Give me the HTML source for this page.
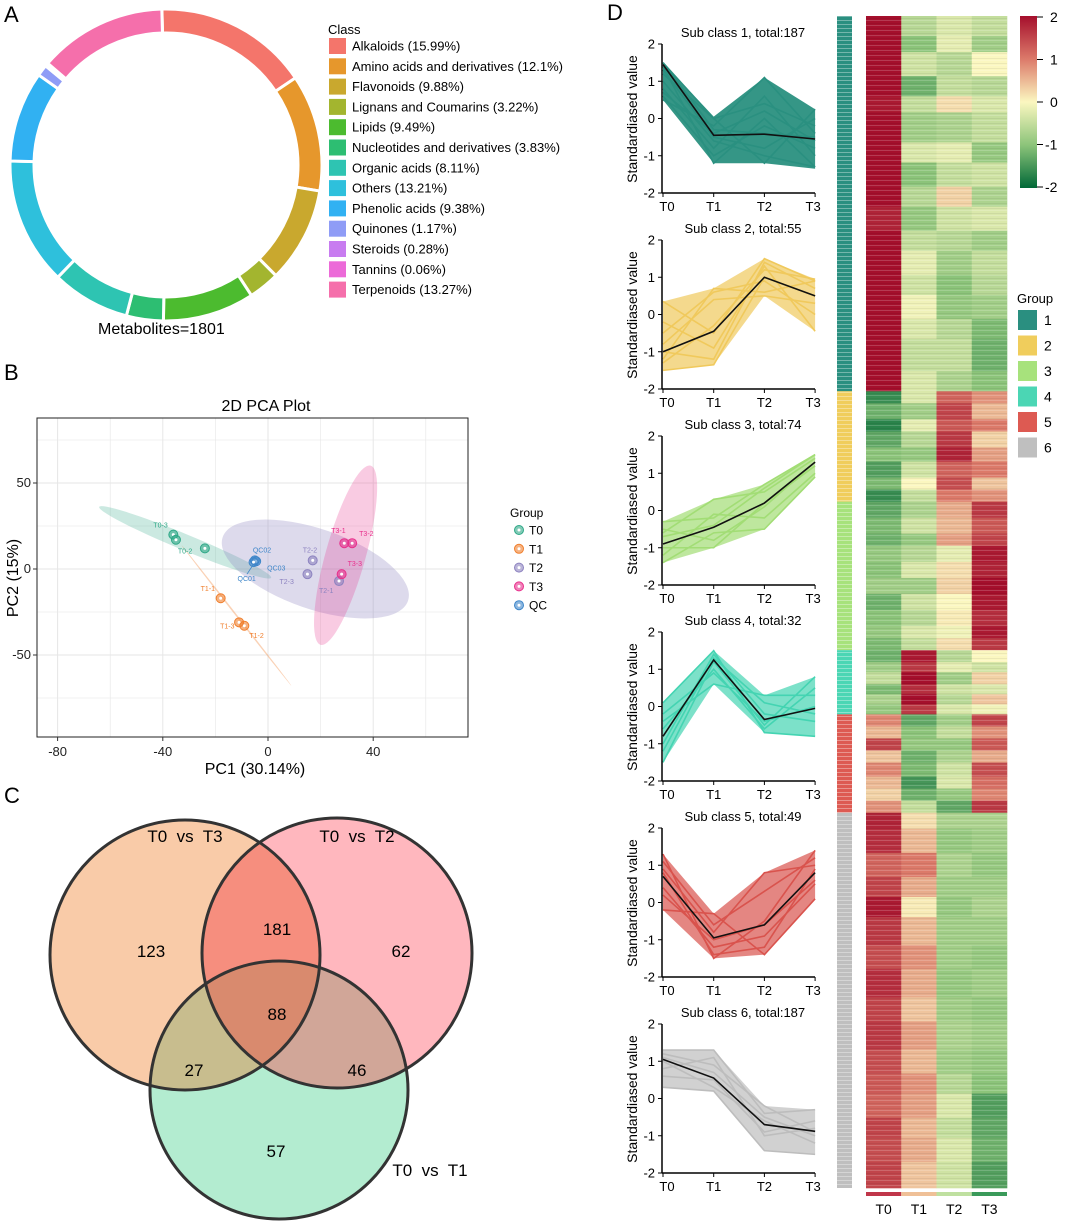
<!DOCTYPE html>
<html><head><meta charset="utf-8"><style>
body{margin:0;background:#fff;}
svg{display:block;font-family:"Liberation Sans",Arial,sans-serif;}
.pre{white-space:pre;}
</style></head><body>
<svg id="fig" width="1065" height="1224" viewBox="0 0 1065 1224">
<defs>
<clipPath id="cA"><circle cx="185" cy="955" r="135"/></clipPath>
<clipPath id="cB"><circle cx="337" cy="953" r="135"/></clipPath>
<clipPath id="cC"><circle cx="279" cy="1090" r="129"/></clipPath>
<linearGradient id="cbar" x1="0" y1="0" x2="0" y2="1">
<stop offset="0" stop-color="#a50f2c"/><stop offset="0.25" stop-color="#dc7a6a"/><stop offset="0.5" stop-color="#fbf7c0"/><stop offset="0.75" stop-color="#8cc47a"/><stop offset="1" stop-color="#006837"/>
</linearGradient>
<pattern id="stripes" width="4" height="4" patternUnits="userSpaceOnUse"><rect x="0" y="0" width="4" height="1" fill="#fff" fill-opacity="0.35"/></pattern>
<pattern id="hstripes" width="6" height="5" patternUnits="userSpaceOnUse"><rect x="0" y="0" width="6" height="1" fill="#fff" fill-opacity="0.18"/><rect x="0" y="3" width="6" height="1" fill="#000" fill-opacity="0.06"/></pattern>
</defs>
<g font-size="22">
<text x="4" y="22">A</text>
<text x="4" y="380">B</text>
<text x="4" y="803">C</text>
<text x="607" y="20">D</text>
</g>
<g id="donut"></g>
<g id="legendA"></g>
<text x="98" y="334" font-size="16">Metabolites=1801</text>
<g id="pca"></g>
<g id="venn">
<circle cx="185" cy="955" r="135" fill="#f9cba8"/>
<circle cx="337" cy="953" r="135" fill="#ffb7be"/>
<circle cx="279" cy="1090" r="129" fill="#b3ecd0"/>
<g clip-path="url(#cA)"><circle cx="337" cy="953" r="135" fill="#f68e7e"/><circle cx="279" cy="1090" r="129" fill="#c8bd8e"/></g>
<g clip-path="url(#cB)"><circle cx="279" cy="1090" r="129" fill="#d1a698"/></g>
<g clip-path="url(#cA)"><g clip-path="url(#cB)"><circle cx="279" cy="1090" r="129" fill="#d98a6e"/></g></g>
<g fill="none" stroke="#333" stroke-width="3">
<circle cx="185" cy="955" r="135"/><circle cx="337" cy="953" r="135"/><circle cx="279" cy="1090" r="129"/>
</g>
<g font-size="17" text-anchor="middle">
<text class="pre" x="185" y="842">T0  vs  T3</text>
<text class="pre" x="357" y="842">T0  vs  T2</text>
<text class="pre" x="430" y="1176">T0  vs  T1</text>
<text x="151" y="957">123</text>
<text x="277" y="935">181</text>
<text x="401" y="957">62</text>
<text x="277" y="1020">88</text>
<text x="194" y="1076">27</text>
<text x="357" y="1076">46</text>
<text x="276" y="1157">57</text>
</g>
</g>
<g id="lines"></g>
<g id="heat"></g>
<rect x="1020" y="16" width="17" height="172" fill="url(#cbar)"/>
<g id="cbticks" font-size="14"></g>
</svg>
<script>
const NS='http://www.w3.org/2000/svg';
function mk(tag,attrs,parent,txt){const e=document.createElementNS(NS,tag);for(const k in attrs)e.setAttribute(k,attrs[k]);if(txt!==undefined)e.textContent=txt;parent.appendChild(e);return e;}

// ---------- Panel A data ----------
const classNames=['Alkaloids','Amino acids and derivatives','Flavonoids','Lignans and Coumarins','Lipids','Nucleotides and derivatives','Organic acids','Others','Phenolic acids','Quinones','Steroids','Tannins','Terpenoids'];
const classPct=[15.99,12.1,9.88,3.22,9.49,3.83,8.11,13.21,9.38,1.17,0.28,0.06,13.27];
const classColors=['#f4756b','#e6972c','#c9a82e','#a3b52f','#4cbb2f','#2dbe72','#2ec4b2','#2ec0dc','#31b1f2','#8f9cf6','#c87cf0','#ec6ad8','#f56fab'];
(function(){
 const g=document.getElementById('donut');const cx=166,cy=165,R=156,r=132;
 let a=-1.5;
 classPct.forEach((p,i)=>{
  const a0=a*Math.PI/180, a1=(a+p*3.6)*Math.PI/180; a+=p*3.6;
  const pt=(rad,ang)=>[cx+rad*Math.sin(ang),cy-rad*Math.cos(ang)];
  const large=(a1-a0)>Math.PI?1:0;
  const [x0,y0]=pt(R,a0),[x1,y1]=pt(R,a1),[x2,y2]=pt(r,a1),[x3,y3]=pt(r,a0);
  const p_=mk('path',{d:`M${x0},${y0}A${R},${R} 0 ${large} 1 ${x1},${y1}L${x2},${y2}A${r},${r} 0 ${large} 0 ${x3},${y3}Z`,fill:classColors[i],stroke:'#fff','stroke-width':3},g);
  
  
 });
 const L=document.getElementById('legendA');
 mk('text',{x:328,y:34,'font-size':13},L,'Class');
 classNames.forEach((n,i)=>{
  const y=38+i*20.3;
  const s=mk('rect',{x:329,y:y,width:17,height:16,fill:classColors[i]},L);
  
  
  const t=mk('text',{x:352,y:y+12.5,'font-size':13},L,n+' ('+classPct[i]+'%)');
  
  
 });
})();

// ---------- Panel B data ----------
const pcaX=[-36,-35,-24,-18,-11,-9,17,15,27,29,32,28,-5,-4.5,-5.5];
const pcaY=[20,17,12,-17,-31,-33,5,-3,-7,15,15,-3,5,4.5,4];
const pcaLab=['T0-3','','T0-2','T1-1','T1-3','T1-2','T2-2','T2-3','T2-1','T3-1','T3-2','T3-3','QC02','QC03','QC01'];
const pcaGrp=[0,0,0,1,1,1,2,2,2,3,3,3,4,4,4];
const grpNames=['T0','T1','T2','T3','QC'];
const grpColors=['#2ea887','#f07f2d','#8d83c0','#e8308c','#3e86c9'];
const xTicks=[-80,-40,0,40];
const yTicks=[50,0,-50];
(function(){
 const g=document.getElementById('pca');
 const X=v=>268+v*2.63, Y=v=>569-v*1.72;
 mk('text',{x:266,y:411,'font-size':16,'text-anchor':'middle'},g,'2D PCA Plot');
 mk('rect',{x:37,y:418,width:431,height:319,fill:'#fff'},g);
 [-80,-60,-40,-20,0,20,40,60].forEach(v=>mk('line',{x1:X(v),x2:X(v),y1:418,y2:737,stroke:'#e6e6e6','stroke-width':v%40?0.6:1},g));
 [75,50,25,0,-25,-50,-75].forEach(v=>mk('line',{y1:Y(v),y2:Y(v),x1:37,x2:468,stroke:'#e6e6e6','stroke-width':v%50?0.6:1},g));
 mk('ellipse',{cx:X(-31.5),cy:Y(15.5),rx:93,ry:8,transform:`rotate(22.4 ${X(-31.5)} ${Y(15.5)})`,fill:'#2ea887','fill-opacity':0.25},g);
 mk('ellipse',{cx:X(-12),cy:Y(-27),rx:89,ry:0.8,transform:`rotate(52 ${X(-12)} ${Y(-27)})`,fill:'#f07f2d','fill-opacity':0.35},g);
 mk('ellipse',{cx:X(18),cy:Y(0),rx:98,ry:40,transform:`rotate(19 ${X(18)} ${Y(0)})`,fill:'#8d83c0','fill-opacity':0.3},g);
 mk('ellipse',{cx:X(29.5),cy:Y(8),rx:20,ry:93,transform:`rotate(15.6 ${X(29.5)} ${Y(8)})`,fill:'#e8308c','fill-opacity':0.25},g);
 mk('line',{x1:X(-5),y1:Y(4),x2:X(-8),y2:Y(-3),stroke:'#3e86c9','stroke-width':0.8},g);
 pcaX.forEach((v,i)=>{
  const c=grpColors[pcaGrp[i]];
  const o=mk('circle',{cx:X(v),cy:Y(pcaY[i]),r:4.5,fill:c,'fill-opacity':0.6,stroke:c,'stroke-width':1},g);
  
  
  mk('circle',{cx:X(v),cy:Y(pcaY[i]),r:1.5,fill:'#fff'},g);
 });
 const off={'T0-3':[-20,-7],'T0-2':[-27,5],'T1-1':[-20,-7],'T1-3':[-19,6],'T1-2':[5,12],'T2-2':[-10,-8],'T2-3':[-28,10],'T2-1':[-20,12],'T3-1':[-13,-10],'T3-2':[7,-7],'T3-3':[6,-8],'QC02':[-2,-8],'QC03':[11,9],'QC01':[-16,19]};
 pcaLab.forEach((l,i)=>{if(!l)return;const o=off[l];mk('text',{x:X(pcaX[i])+o[0],y:Y(pcaY[i])+o[1],'font-size':7,fill:grpColors[pcaGrp[i]]},g,l);});
 mk('rect',{x:37,y:418,width:431,height:319,fill:'none',stroke:'#222','stroke-width':1},g);
 xTicks.forEach(v=>{mk('line',{x1:X(v),x2:X(v),y1:737,y2:741,stroke:'#333'},g);mk('text',{x:X(v),y:756,'font-size':13,'text-anchor':'middle',fill:'#222'},g,v);});
 yTicks.forEach(v=>{mk('line',{x1:33,x2:37,y1:Y(v),y2:Y(v),stroke:'#333'},g);mk('text',{x:31,y:Y(v)+4,'font-size':13,'text-anchor':'end',fill:'#222'},g,v);});
 mk('text',{x:255,y:774,'font-size':16,'text-anchor':'middle'},g,'PC1 (30.14%)');
 mk('text',{x:18,y:578,'font-size':16,'text-anchor':'middle',transform:'rotate(-90 18 578)'},g,'PC2 (15%)');
 mk('text',{x:510,y:517,'font-size':12},g,'Group');
 grpNames.forEach((n,i)=>{const y=530+i*18.8;const c=grpColors[i];
  mk('circle',{cx:519,cy:y,r:4.5,fill:c,'fill-opacity':0.6,stroke:c},g);mk('circle',{cx:519,cy:y,r:1.5,fill:'#fff'},g);
  const t=mk('text',{x:529,y:y+4.5,'font-size':12},g,n);
  
  });
})();

// ---------- Panel D line charts ----------
const timePoints=['T0','T1','T2','T3'];
const classTotals=[187,55,74,32,49,187];
const lineColors=['#2a9080','#f0c95c','#a2dd75','#44d4b2','#d9534d','#bdbdbd'];
const means=[[1.45,-0.45,-0.42,-0.55],[-1,-0.45,1,0.5],[-0.9,-0.45,0.2,1.3],[-0.8,1.25,-0.35,-0.05],[0.7,-0.95,-0.6,0.8],[1.05,0.55,-0.7,-0.88]];
const upper=[[1.5,0.05,1.1,0.25],[0.35,0.7,1.5,0.95],[-0.3,0.3,0.7,1.5],[0.1,1.5,0.3,0.8],[1.3,-0.3,0.8,1.4],[1.3,1.3,-0.2,-0.3]];
const lower=[[0.5,-1.2,-1.2,-1.35],[-1.5,-1.35,0.5,-0.45],[-1.4,-1.0,-0.5,0.9],[-1.5,0.6,-0.7,-0.8],[-0.2,-1.5,-1.4,0.1],[0.3,0.2,-1.4,-1.5]];
const members1=[[1.5,-0.3,-0.4,-0.5],[1.4,-1.2,0,-1.3],[0.5,-0.2,1.1,-0.4],[1.2,0,-1.2,0.25],[0.8,-0.8,0.6,-1],[1.3,-0.5,-0.8,0],[0.6,-1,-0.2,-0.8],[1.5,0,0.4,-0.2],[1.0,-0.6,-1,-1.3],[0.7,-0.4,0.2,-0.6]];
const members2=[[0.35,-0.5,1.5,0.9],[-1.5,-1.35,1,0.5],[-1.2,0.7,0.6,0.9],[-0.2,-0.9,1.3,-0.45],[-0.8,0.4,0.5,0.3],[-1.3,-0.3,1.2,0.95],[-0.5,0.6,0.9,0],[-1,-1.2,1.4,0.7]];
const members3=[[-0.3,-0.2,0.7,1.5],[-1.4,-0.6,-0.5,0.9],[-0.6,0.3,0.5,1.4],[-1.0,-1.0,0.2,1.2],[-0.7,-0.4,0.6,1.5],[-1.2,-0.1,-0.2,1.0],[-0.5,-0.8,0.1,1.3]];
const members4=[[-1.5,1.2,-0.5,0.8],[0.1,1.5,-0.7,-0.8],[-0.4,0.6,0.3,0.3],[-1.0,1.4,-0.2,-0.4],[-0.6,1.0,-0.6,0.5],[-1.2,1.3,0.1,-0.2],[-0.2,0.9,-0.4,0.0]];
const members5=[[1.3,-1.5,-0.5,1.4],[-0.2,-0.3,-1.4,0.1],[0.9,-0.8,0.8,1.0],[0.4,-1.2,-0.9,0.5],[1.1,-0.6,0.3,1.2],[0.2,-1.0,-0.6,0.6],[0.8,-1.4,-1.2,0.9]];
const members6=[[1.3,1.3,-0.4,-0.3],[0.3,0.2,-1.4,-1.5],[1.2,0.9,-0.2,-0.9],[0.6,0.5,-0.9,-0.6],[1.0,0.3,-0.6,-1.2],[0.8,1.1,-1.0,-0.8],[1.1,0.7,-0.5,-1.0]];
const members=[members1,members2,members3,members4,members5,members6];
const lineYTicks=[2,1,0,-1,-2];
(function(){
 const root=document.getElementById('lines');
 members.forEach((mem,c)=>{
  const g=mk('g',{},root);
  
  
  const top=44+196*c;
  const X=t=>663+t*50.7, Y=v=>top+(2-v)*37.25;
  const pts=a=>a.map((v,t)=>X(t)+','+Y(v)).join(' ');
  const env=upper[c].map((v,t)=>X(t)+','+Y(v)).concat(lower[c].map((v,t)=>X(t)+','+Y(v)).reverse()).join(' ');
  mk('polygon',{points:env,fill:lineColors[c],'fill-opacity':c===0?0.95:0.7},g);
  mem.forEach(m=>{const l=mk('polyline',{points:pts(m),fill:'none',stroke:lineColors[c],'stroke-width':1.6},g);
   
   });
  const ml=mk('polyline',{points:pts(means[c]),fill:'none',stroke:'#111','stroke-width':1.6},g);
  
  
  mk('line',{x1:662,x2:662,y1:top,y2:top+149,stroke:'#000','stroke-width':1.5},g);
  mk('line',{x1:662,x2:815,y1:top+149,y2:top+149,stroke:'#000','stroke-width':1.5},g);
  lineYTicks.forEach(v=>{mk('line',{x1:658,x2:662,y1:Y(v),y2:Y(v),stroke:'#000'},g);mk('text',{x:655,y:Y(v)+4.5,'font-size':13,'text-anchor':'end'},g,v);});
  timePoints.forEach((t,i)=>{mk('line',{x1:X(i),x2:X(i),y1:top+149,y2:top+153,stroke:'#000'},g);mk('text',{x:X(i)+(i===0?4:i===3?-2:0),y:top+167,'font-size':13,'text-anchor':'middle'},g,t);});
  mk('text',{x:743,y:top-7,'font-size':13,'text-anchor':'middle'},g,'Sub class '+(c+1)+', total:'+classTotals[c]);
  mk('text',{x:637,y:top+75,'font-size':14,'text-anchor':'middle',transform:`rotate(-90 637 ${top+75})`},g,'Standardiased value');
 });
})();

// ---------- Heatmap ----------
const groupColors=['#2a8f80','#f0cd5c','#a7e27c','#4bd6b4','#dd5a52','#bfbfbf'];
const heatBlocks1=[[10,2,-0.6,-0.3,-0.5],[8,2,-1,-0.2,-0.8],[12,2,-0.4,-0.6,0],[10,2,-1.2,-0.5,-0.6],[8,1.9,-0.5,0.2,-0.3],[15,2,-0.8,-0.7,-0.5],[10,2,-0.3,-0.2,-0.9],[12,2,-1,-0.5,-0.4],[10,2,-0.6,0.3,-0.7],[12,1.8,-0.9,-0.4,-0.3],[10,2,-0.5,-0.6,-0.8],[12,2,-0.2,-0.8,-0.5],[10,2,-0.4,-1,-0.6],[12,2,-0.1,-0.9,-0.8],[10,2,-0.3,-0.6,-1.1],[16,2,-0.5,-0.5,-1.2],[10,2,-0.3,-0.7,-1.0]];
const heatBlocks2=[[6,-1.6,-0.3,1.2,0.8],[8,-1.2,-0.8,1.5,0.5],[6,-1.7,-0.2,1.3,1],[8,-1.3,-0.6,1.6,0.3],[7,-1,-0.9,1.8,0.7],[8,-1.4,-0.4,1.2,1.0],[6,-1.1,0,1.4,0.4],[6,-1.6,-0.5,1.0,0.8]];
const heatBlocks3=[[8,-1.3,-0.7,0.6,1.6],[8,-1.1,-0.4,0.5,1.3],[6,-1.2,-0.9,0.7,1.5],[8,-0.9,-0.6,-0.2,1.9],[8,-1,-0.3,0.2,1.8],[8,-0.8,-0.8,0.3,2],[8,-1.2,-0.4,0,1.9],[8,-1,-0.6,0.1,1.7],[6,-0.9,-0.3,-0.1,1.9],[6,-1.1,-0.5,0.2,1.6]];
const heatBlocks4=[[6,-1.2,1.9,-0.6,0],[5,-0.8,1.6,-0.2,-0.4],[6,-0.5,2,-0.8,0.3],[5,-1.1,1.7,-0.4,-0.3],[5,-0.7,2,-0.6,0.4],[5,-0.9,1.6,-0.3,-0.1]];
const heatBlocks5=[[6,0.9,-1.3,-0.8,1.5],[6,0.5,-1.0,-0.5,0.8],[6,1.5,-0.9,-0.9,1.3],[6,0.4,-1.2,-0.7,0.6],[7,0.9,-1.1,-0.4,1.4],[6,0.5,-1.5,-0.3,1.1],[6,0.3,-1.2,-0.9,0.9],[6,0.8,-0.5,-1.3,1.6]];
const heatBlocks6=[[8,1.8,0.2,-0.7,-0.7],[12,1.7,0.5,-0.9,-0.8],[12,1.2,1.0,-0.7,-0.9],[10,1.5,0.6,-0.8,-0.8],[10,1.9,0.1,-0.9,-0.7],[14,1.6,0.5,-0.8,-0.8],[12,1.4,0.8,-0.8,-0.9],[14,1.7,0.6,-0.9,-0.8],[12,1.5,0.4,-0.8,-0.9],[14,1.6,0.7,-0.7,-0.8],[12,1.4,0.5,-0.8,-0.9],[10,1.3,0.8,-0.6,-1.0],[12,1.2,0.7,-0.3,-1.4],[10,1.5,0.5,-0.5,-1.3],[12,1.4,0.6,-0.3,-1.2],[13,1.5,0.4,-0.4,-1.4]];
const heatBlocks=[heatBlocks1,heatBlocks2,heatBlocks3,heatBlocks4,heatBlocks5,heatBlocks6];
const colTopColors=['#c0364a','#efc097','#bfe0a0','#3a9a5a'];
const cbLabels=[2,1,0,-1,-2];
function heatColor(v){
 const st=[[-2,[0,104,55]],[-1,[140,196,122]],[0,[251,247,192]],[1,[220,122,106]],[2,[165,15,44]]];
 v=Math.max(-2,Math.min(2,v));
 for(let i=0;i<4;i++){const [a,ca]=st[i],[b,cb]=st[i+1];if(v<=b){const f=(v-a)/(b-a);return 'rgb('+ca.map((x,k)=>Math.round(x+(cb[k]-x)*f)).join(',')+')';}}
}
(function(){
 const g=document.getElementById('heat');
 const rowH=1172/584, x0=866, cw=35.25;
 let row=0;
 heatBlocks.forEach((blocks,c)=>{
  const start=row;
  blocks.forEach(b=>{
   const n=b[0];
   for(let k=0;k<4;k++){
    const r=mk('rect',{x:x0+k*cw,y:16+row*rowH,width:cw+0.3,height:n*rowH+0.3,fill:heatColor(b[k+1])},g);
    
    
   }
   row+=n;
  });
  const gb=mk('rect',{x:837,y:16+start*rowH,width:15,height:(row-start)*rowH,fill:groupColors[c]},g);
  
  
 });
 mk('rect',{x:837,y:16,width:15,height:1172,fill:'url(#stripes)'},g);
 mk('rect',{x:x0,y:16,width:cw*4,height:1172,fill:'url(#hstripes)'},g);
 timePoints.forEach((t,k)=>{
  mk('rect',{x:x0+k*cw,y:1192,width:cw,height:4,fill:colTopColors[k]},g);
  const l=mk('text',{x:x0+k*cw+cw/2,y:1214,'font-size':14,'text-anchor':'middle'},g,t);
  
  
 });
 const cb=document.getElementById('cbticks');
 cbLabels.forEach((v,i)=>{const y=17+i*42.5;mk('line',{x1:1037,x2:1043,y1:y,y2:y,stroke:'#000'},cb);mk('text',{x:v<0?1045:1050,y:y+5},cb,v);});
 mk('text',{x:1017,y:303,'font-size':13},g,'Group');
 groupColors.forEach((c,i)=>{const y=310+i*25.5;
  const s=mk('rect',{x:1018,y:y,width:19,height:20,fill:c},g);
  
  
  mk('text',{x:1044,y:y+15,'font-size':14},g,i+1);});
})();
</script>
</body></html>
